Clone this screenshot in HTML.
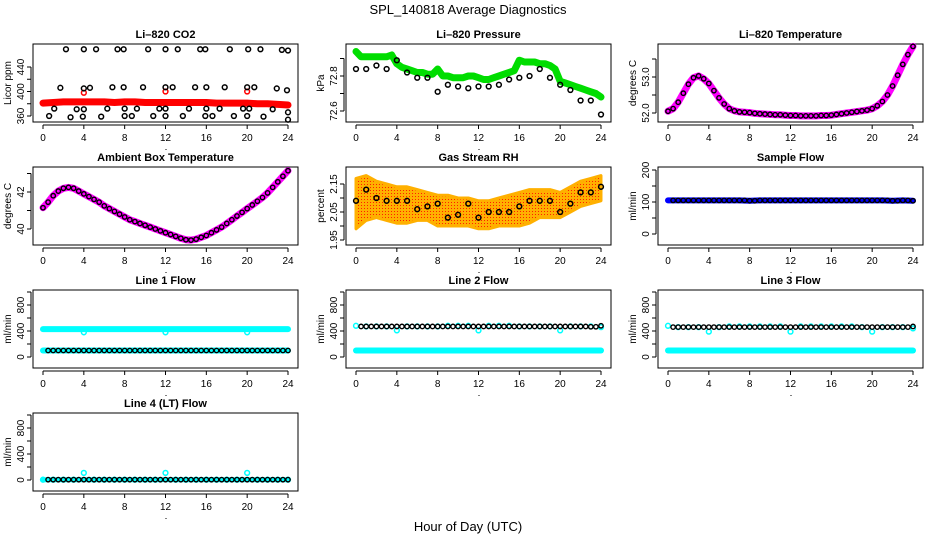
<!DOCTYPE html>
<html><head><meta charset="utf-8"><style>
html,body{margin:0;padding:0;background:#fff;}
svg{display:block;font-family:"Liberation Sans",sans-serif;}
</style></head><body>
<svg id="chart" width="936" height="540" viewBox="0 0 936 540" xmlns="http://www.w3.org/2000/svg">
<rect width="936" height="540" fill="#fff"/>
<text x="468" y="14" text-anchor="middle" font-size="13">SPL_140818  Average Diagnostics</text>
<text x="468" y="531" text-anchor="middle" font-size="13">Hour of Day (UTC)</text>
</svg>
<script>
const H25=[0,1,2,3,4,5,6,7,8,9,10,11,12,13,14,15,16,17,18,19,20,21,22,23,24];
const H49=[0,0.5,1,1.5,2,2.5,3,3.5,4,4.5,5,5.5,6,6.5,7,7.5,8,8.5,9,9.5,10,10.5,11,11.5,12,12.5,13,13.5,14,14.5,15,15.5,16,16.5,17,17.5,18,18.5,19,19.5,20,20.5,21,21.5,22,22.5,23,23.5,24];
const xTicks=[0,4,8,12,16,20,24];
// CO2
const co2Red=[381,382,383,383,383,383,383,382,383,383,382,382,382,382,382,382,382,381,381,381,381,380,380,379,378];
const co2RedOutT=[4,12,20];
const co2RedOutV=[398,400,400];
const co2BlackT=[2.25,4,5.2,7.3,7.9,10.3,12,13.2,15.4,15.9,18.3,20.1,21.3,23.4,24,1.7,4,4.6,6.8,7.9,9.8,12,12.7,14.9,16,17.8,20,20.7,22.9,23.9,1.1,3.3,4,6.3,8,9.2,11.4,12,14.3,16,17.3,19.6,20.2,22.5,24,0.6,2.7,3.9,5.7,8,8.7,10.8,12,13.7,15.9,16.6,18.7,20,21.6,24];
const co2BlackV=[469,469,469,469,469,469,469,469,469,469,469,469,469,468,467,406,405,406,407,407,407,407,407,407,407,407,407,407,405,402,372,371,371,372,372,372,372,372,372,372,372,372,372,371,366,360,358,359,359,360,360,360,360,360,360,360,360,360,359,354];
// Pressure
const presGreen=[72.94,72.91,72.91,72.91,72.91,72.91,72.91,72.92,72.87,72.85,72.84,72.83,72.82,72.82,72.81,72.81,72.84,72.80,72.80,72.79,72.79,72.79,72.8,72.8,72.79,72.78,72.78,72.79,72.8,72.81,72.82,72.83,72.89,72.88,72.88,72.88,72.87,72.87,72.86,72.84,72.77,72.76,72.75,72.74,72.73,72.72,72.71,72.70,72.68];
const presBlack=[72.84,72.84,72.86,72.84,72.89,72.82,72.79,72.79,72.71,72.75,72.74,72.73,72.74,72.74,72.75,72.78,72.79,72.8,72.84,72.79,72.75,72.72,72.66,72.66,72.58];
// Li-820 temperature
const liTemp=[52.05,52.12,52.3,52.55,52.8,52.98,53.03,52.95,52.82,52.62,52.42,52.25,52.12,52.06,52.03,52.02,52.01,51.99,51.98,51.97,51.96,51.95,51.95,51.94,51.93,51.93,51.92,51.92,51.92,51.92,51.93,51.93,51.94,51.96,51.98,52.0,52.02,52.04,52.06,52.08,52.12,52.2,52.32,52.5,52.75,53.05,53.35,53.62,53.85];
// Ambient
const ambTemp=[41.15,41.45,41.8,42.05,42.2,42.25,42.2,42.05,41.9,41.75,41.6,41.45,41.25,41.1,40.95,40.8,40.65,40.5,40.4,40.3,40.2,40.1,40.0,39.9,39.8,39.7,39.6,39.5,39.42,39.4,39.45,39.55,39.65,39.8,39.95,40.1,40.3,40.5,40.7,40.9,41.1,41.3,41.5,41.7,41.95,42.25,42.55,42.85,43.15];
// RH
const rhMean=[2.09,2.13,2.1,2.09,2.09,2.09,2.06,2.07,2.08,2.03,2.04,2.08,2.03,2.05,2.05,2.05,2.07,2.09,2.09,2.09,2.05,2.08,2.12,2.12,2.14];
const rhLow=[1.99,2.02,2.03,2.02,2.01,2.01,2.02,2.02,2.0,2.0,2.0,2.0,1.99,1.99,2.0,2.0,2.0,2.01,2.03,2.03,2.03,2.05,2.07,2.08,2.09];
const rhHigh=[2.17,2.18,2.16,2.15,2.14,2.14,2.13,2.12,2.11,2.11,2.1,2.1,2.09,2.09,2.1,2.11,2.12,2.13,2.13,2.13,2.12,2.14,2.16,2.17,2.18];
// Flows
const sampleFlow=[105,105,105,105,105,105,105,105,104,105,105,105,105,105,105,105,105,105,105,105,105,105,104,105,104];
const line1Upper=[430,430,430,430,380,430,430,430,430,430,430,430,380,430,430,430,430,430,430,430,380,430,425,425,430];
const line1Lower=[100,100,100,100,100,100,100,100,100,100,100,100,100,100,100,100,100,100,100,100,100,100,100,100,100];
const line2Black=[470,470,470,470,470,470,470,470,470,470,470,470,470,470,470,470,470,470,470,470,470,470,470,465,480];
const line2Upper=[480,470,470,470,410,470,470,470,470,480,480,480,410,480,480,480,470,470,470,470,410,470,470,470,460];
const line3Black=[460,460,460,460,460,460,460,460,460,460,460,460,460,460,460,460,460,460,460,460,460,460,460,460,470];
const line3Upper=[480,460,460,460,390,460,470,470,470,470,470,470,390,470,470,470,470,470,470,460,390,460,460,460,440];
const line4Black=[5,5,5,5,5,5,5,5,5,5,5,5,5,5,5,5,5,5,5,5,5,5,5,5,5];
const line4Cyan=[5,5,5,5,110,5,5,5,5,5,5,5,110,5,5,5,5,5,5,5,110,5,5,5,5];
const flowTicks=[0,200,400,600,800,1000];
const flowLabels=["0","","400","","800",""];

const NS="http://www.w3.org/2000/svg";
const svg=document.getElementById('chart');
const COLX=[43,356,668], ROWT=[44,167,290,413], SPAN=245, BH=78;
function mk(tag,attrs,parent){const e=document.createElementNS(NS,tag);for(const k in attrs)e.setAttribute(k,attrs[k]);(parent||svg).appendChild(e);return e;}

function panel(c,r,title,ylab,v0,p0,v1,p1,ticks,labels,name){
  const g=mk('g',{});
  
  
  const x0=COLX[c], T=ROWT[r];
  const sx=t=>x0+t/24*SPAN;
  const sy=v=>T+p0+(v-v0)*(p1-p0)/(v1-v0);
  const bx=x0-10, bw=SPAN+20;
  const box=mk('rect',{x:bx,y:T,width:bw,height:BH,fill:'none',stroke:'#000','stroke-width':1},g);
  
  
  const tt=mk('text',{x:bx+bw/2,y:T-6,'text-anchor':'middle','font-size':11,'font-weight':'bold'},g);
  tt.textContent=title;
  
  
  const xa=mk('g',{},g);
  
  
  mk('line',{x1:sx(0),x2:sx(24),y1:T+BH+3,y2:T+BH+3,stroke:'#000'},xa);
  xTicks.forEach(t=>{
    mk('line',{x1:sx(t),x2:sx(t),y1:T+BH+3,y2:T+BH+7,stroke:'#000'},xa);
    const l=mk('text',{x:sx(t),y:T+BH+19,'text-anchor':'middle','font-size':10},xa);
    l.textContent=t;
  });
  mk('rect',{x:bx+bw/2,y:T+BH+27,width:1,height:1,fill:'#000'},xa);
  const ya=mk('g',{},g);
  
  
  const ys=ticks.map(sy);
  mk('line',{x1:bx-2,x2:bx-2,y1:Math.min(...ys),y2:Math.max(...ys),stroke:'#000'},ya);
  ticks.forEach((v,i)=>{
    const y=sy(v);
    mk('line',{x1:bx-6,x2:bx-2,y1:y,y2:y,stroke:'#000'},ya);
    if(labels[i]){const l=mk('text',{x:bx-9,y:y,'text-anchor':'middle','font-size':10,transform:`rotate(-90 ${bx-9} ${y})`},ya);l.textContent=labels[i];}
  });
  const yl=mk('text',{x:bx-22,y:T+BH/2,'text-anchor':'middle','font-size':10,transform:`rotate(-90 ${bx-22} ${T+BH/2})`},g);
  yl.textContent=ylab;
  
  
  return {g,sx,sy};
}
function band(p,ts,vs,color,w,name){
  const pts=ts.map((t,i)=>p.sx(t).toFixed(1)+','+p.sy(vs[i]).toFixed(1)).join(' ');
  const e=mk('polyline',{points:pts,fill:'none',stroke:color,'stroke-width':w,'stroke-linejoin':'round','stroke-linecap':'round'},p.g);
  
  
}
function pts(p,ts,vs,color,r,sw,name){
  const g=mk('g',{},p.g);
  
  
  ts.forEach((t,i)=>mk('circle',{cx:p.sx(t),cy:p.sy(vs[i]),r:r,fill:'none',stroke:color,'stroke-width':sw},g));
}

let p=panel(0,0,'Li\u2013820 CO2','Licor ppm',360,72,440,23,[360,380,400,420,440],['360','','400','','440'],'co2');
band(p,H25,co2Red,'#ff0000',7,'co2-red-series');
pts(p,co2RedOutT,co2RedOutV,'#ff0000',2.4,1.5,'co2-red-outliers');
pts(p,co2BlackT,co2BlackV,'#000',2.4,1.5,'co2-black-points');

p=panel(1,0,'Li\u2013820 Pressure','kPa',72.6,67,72.8,32,[72.6,72.7,72.8,72.9],['72.6','','72.8',''],'pressure');
band(p,H49,presGreen,'#00dd00',7,'pressure-green-series');
pts(p,H25,presBlack,'#000',2.4,1.5,'pressure-black-points');

p=panel(2,0,'Li\u2013820 Temperature','degrees C',52.0,69,53.0,33,[52.0,52.5,53.0,53.5],['52.0','','53.0',''],'li-temp');
band(p,H49,liTemp,'#ff00ff',7,'li-temp-magenta-series');
pts(p,H49,liTemp,'#000',2.2,1.4,'li-temp-black-points');

p=panel(0,1,'Ambient Box Temperature','degrees C',40,62,42,25,[40,41,42,43],['40','','42',''],'ambient');
band(p,H49,ambTemp,'#ff00ff',7,'ambient-magenta-series');
pts(p,H49,ambTemp,'#000',2.2,1.4,'ambient-black-points');

p=panel(1,1,'Gas Stream RH','percent',1.95,73,2.15,17,[1.95,2.0,2.05,2.1,2.15],['1.95','','2.05','','2.15'],'rh');
{const up=H25.map((t,i)=>p.sx(t).toFixed(1)+','+p.sy(rhHigh[i]).toFixed(1));
 const dn=H25.map((t,i)=>p.sx(t).toFixed(1)+','+p.sy(rhLow[i]).toFixed(1)).reverse();
 const d=mk('defs',{},p.g);
 const pat=mk('pattern',{id:'rhpat',width:3,height:3,patternUnits:'userSpaceOnUse'},d);
 mk('rect',{width:3,height:3,fill:'#ffb000'},pat);
 mk('rect',{x:1,y:1,width:1,height:1,fill:'#ff2000'},pat);
 const e=mk('polygon',{points:up.concat(dn).join(' '),fill:'url(#rhpat)',stroke:'#ffb000','stroke-width':3,'stroke-linejoin':'round'},p.g);
 
 }
pts(p,H25,rhMean,'#000',2.4,1.5,'rh-black-points');

p=panel(2,1,'Sample Flow','ml/min',0,67,200,3,[0,50,100,150,200],['0','','100','','200'],'sample-flow');
band(p,H25,sampleFlow,'#0000ff',6,'sample-flow-blue-series');
pts(p,H49.slice(1),H49.slice(1).map(t=>sampleFlow[Math.floor(t)]),'#000',2.2,1.4,'sample-flow-black-points');

p=panel(0,2,'Line 1 Flow','ml/min',0,67,800,15,flowTicks,flowLabels,'line1');
band(p,H25,line1Upper.map(v=>Math.max(v,430)),'#00ffff',6,'line1-cyan-upper');
pts(p,[4,12,20],[line1Upper[4],line1Upper[12],line1Upper[20]],'#00ffff',2.4,1.5,'line1-cyan-outliers');
band(p,H25,line1Lower,'#00ffff',6,'line1-cyan-lower');
pts(p,H49.slice(1),H49.slice(1).map(t=>line1Lower[Math.floor(t)]),'#000',2.2,1.4,'line1-black-points');

p=panel(1,2,'Line 2 Flow','ml/min',0,67,800,15,flowTicks,flowLabels,'line2');
band(p,H25,line1Lower,'#00ffff',6,'line2-cyan-lower');
pts(p,H25,line2Upper,'#00ffff',2.4,1.5,'line2-cyan-upper');
pts(p,H49.slice(1),H49.slice(1).map(t=>line2Black[Math.floor(t)]),'#000',2.2,1.4,'line2-black-points');

p=panel(2,2,'Line 3 Flow','ml/min',0,67,800,15,flowTicks,flowLabels,'line3');
band(p,H25,line1Lower,'#00ffff',6,'line3-cyan-lower');
pts(p,H25,line3Upper,'#00ffff',2.4,1.5,'line3-cyan-upper');
pts(p,H49.slice(1),H49.slice(1).map(t=>line3Black[Math.floor(t)]),'#000',2.2,1.4,'line3-black-points');

p=panel(0,3,'Line 4 (LT) Flow','ml/min',0,67,800,15,flowTicks,flowLabels,'line4');
band(p,H25,line4Black,'#00ffff',5,'line4-cyan-band');
pts(p,H25,line4Cyan,'#00ffff',2.4,1.5,'line4-cyan-points');
pts(p,H49.slice(1),H49.slice(1).map(t=>line4Black[Math.floor(t)]),'#000',2.2,1.4,'line4-black-points');
</script>
</body></html>
